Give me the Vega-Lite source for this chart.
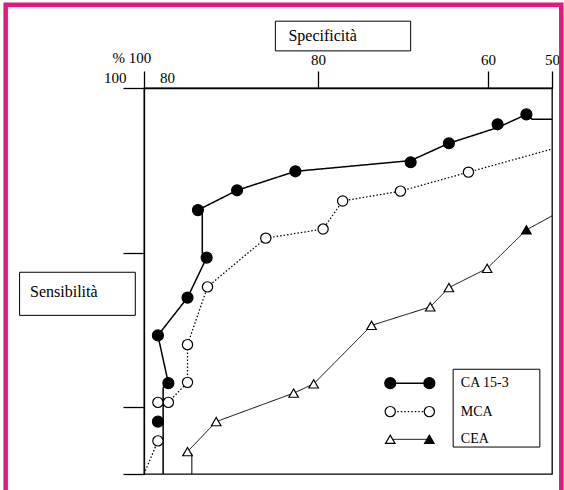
{
  "$schema": "https://vega.github.io/schema/vega-lite/v6.json",
  "width": 408,
  "height": 386,
  "padding": {"left": 144, "top": 88, "right": 12, "bottom": 16},
  "autosize": {"type": "none"},
  "background": "white",
  "config": {
    "view": {"stroke": "black", "strokeWidth": 1.3},
    "font": "Liberation Serif",
    "axis": {"grid": false, "title": null, "domainColor": "black", "tickColor": "black", "tickWidth": 1.3, "domainWidth": 1.3, "labelColor": "black", "labelFont": "Liberation Serif", "labelFontSize": 15}
  },
  "datasets": {
    "linee": [
      {"serie": "CA 15-3", "tratto": "a", "i": 1, "spec": 97.8, "sens": 51.3},
      {"serie": "CA 15-3", "tratto": "a", "i": 2, "spec": 97.8, "sens": 62.5},
      {"serie": "CA 15-3", "tratto": "a", "i": 3, "spec": 97.2, "sens": 63.1},
      {"serie": "CA 15-3", "tratto": "a", "i": 4, "spec": 98.4, "sens": 69.3},
      {"serie": "CA 15-3", "tratto": "a", "i": 5, "spec": 95.0, "sens": 74.2},
      {"serie": "CA 15-3", "tratto": "a", "i": 6, "spec": 92.8, "sens": 79.4},
      {"serie": "CA 15-3", "tratto": "a", "i": 7, "spec": 93.3, "sens": 80.0},
      {"serie": "CA 15-3", "tratto": "a", "i": 8, "spec": 93.3, "sens": 85.0},
      {"serie": "CA 15-3", "tratto": "a", "i": 9, "spec": 93.8, "sens": 85.2},
      {"serie": "CA 15-3", "tratto": "a", "i": 10, "spec": 89.3, "sens": 87.6},
      {"serie": "CA 15-3", "tratto": "a", "i": 11, "spec": 82.6, "sens": 89.9},
      {"serie": "CA 15-3", "tratto": "a", "i": 12, "spec": 69.1, "sens": 91.2},
      {"serie": "CA 15-3", "tratto": "a", "i": 13, "spec": 64.6, "sens": 93.3},
      {"serie": "CA 15-3", "tratto": "a", "i": 14, "spec": 58.5, "sens": 95.2},
      {"serie": "CA 15-3", "tratto": "a", "i": 15, "spec": 54.0, "sens": 96.8},
      {"serie": "CA 15-3", "tratto": "a", "i": 16, "spec": 53.1, "sens": 96.2},
      {"serie": "CA 15-3", "tratto": "a", "i": 17, "spec": 50.0, "sens": 96.2},
      {"serie": "MCA", "tratto": "b", "i": 1, "spec": 100.0, "sens": 51.3},
      {"serie": "MCA", "tratto": "b", "i": 2, "spec": 98.4, "sens": 55.6},
      {"serie": "MCA", "tratto": "c", "i": 3, "spec": 97.2, "sens": 60.6},
      {"serie": "MCA", "tratto": "c", "i": 4, "spec": 95.0, "sens": 63.2},
      {"serie": "MCA", "tratto": "c", "i": 5, "spec": 95.0, "sens": 68.1},
      {"serie": "MCA", "tratto": "c", "i": 6, "spec": 92.7, "sens": 75.6},
      {"serie": "MCA", "tratto": "c", "i": 7, "spec": 86.0, "sens": 81.8},
      {"serie": "MCA", "tratto": "c", "i": 8, "spec": 79.4, "sens": 82.9},
      {"serie": "MCA", "tratto": "c", "i": 9, "spec": 77.1, "sens": 86.3},
      {"serie": "MCA", "tratto": "c", "i": 10, "spec": 70.3, "sens": 87.5},
      {"serie": "MCA", "tratto": "c", "i": 11, "spec": 62.3, "sens": 89.8},
      {"serie": "MCA", "tratto": "c", "i": 12, "spec": 50.0, "sens": 92.6},
      {"serie": "CEA", "tratto": "d", "i": 1, "spec": 94.5, "sens": 51.3},
      {"serie": "CEA", "tratto": "d", "i": 2, "spec": 94.5, "sens": 53.9},
      {"serie": "CEA", "tratto": "d", "i": 3, "spec": 95.0, "sens": 54.2},
      {"serie": "CEA", "tratto": "d", "i": 4, "spec": 91.7, "sens": 58.1},
      {"serie": "CEA", "tratto": "d", "i": 5, "spec": 82.8, "sens": 61.8},
      {"serie": "CEA", "tratto": "d", "i": 6, "spec": 80.5, "sens": 63.0},
      {"serie": "CEA", "tratto": "d", "i": 7, "spec": 73.7, "sens": 70.6},
      {"serie": "CEA", "tratto": "d", "i": 8, "spec": 66.8, "sens": 73.0},
      {"serie": "CEA", "tratto": "d", "i": 9, "spec": 64.6, "sens": 75.5},
      {"serie": "CEA", "tratto": "d", "i": 10, "spec": 60.1, "sens": 78.0},
      {"serie": "CEA", "tratto": "d", "i": 11, "spec": 54.0, "sens": 82.8},
      {"serie": "CEA", "tratto": "d", "i": 12, "spec": 50.0, "sens": 84.5}
    ],
    "punti": [
      {"serie": "CA 15-3", "segno": "pieno", "spec": 98.4, "sens": 58.1},
      {"serie": "CA 15-3", "segno": "pieno", "spec": 97.2, "sens": 63.1},
      {"serie": "CA 15-3", "segno": "pieno", "spec": 98.4, "sens": 69.3},
      {"serie": "CA 15-3", "segno": "pieno", "spec": 95.0, "sens": 74.2},
      {"serie": "CA 15-3", "segno": "pieno", "spec": 92.8, "sens": 79.4},
      {"serie": "CA 15-3", "segno": "pieno", "spec": 93.8, "sens": 85.2},
      {"serie": "CA 15-3", "segno": "pieno", "spec": 89.3, "sens": 87.6},
      {"serie": "CA 15-3", "segno": "pieno", "spec": 82.6, "sens": 89.9},
      {"serie": "CA 15-3", "segno": "pieno", "spec": 69.1, "sens": 91.0},
      {"serie": "CA 15-3", "segno": "pieno", "spec": 64.6, "sens": 93.3},
      {"serie": "CA 15-3", "segno": "pieno", "spec": 58.5, "sens": 95.6},
      {"serie": "CA 15-3", "segno": "pieno", "spec": 54.0, "sens": 96.8},
      {"serie": "MCA", "segno": "vuoto", "spec": 98.4, "sens": 55.6},
      {"serie": "MCA", "segno": "vuoto", "spec": 98.4, "sens": 60.6},
      {"serie": "MCA", "segno": "vuoto", "spec": 97.2, "sens": 60.6},
      {"serie": "MCA", "segno": "vuoto", "spec": 95.0, "sens": 63.2},
      {"serie": "MCA", "segno": "vuoto", "spec": 95.0, "sens": 68.1},
      {"serie": "MCA", "segno": "vuoto", "spec": 92.7, "sens": 75.6},
      {"serie": "MCA", "segno": "vuoto", "spec": 86.0, "sens": 81.8},
      {"serie": "MCA", "segno": "vuoto", "spec": 79.4, "sens": 82.9},
      {"serie": "MCA", "segno": "vuoto", "spec": 77.1, "sens": 86.3},
      {"serie": "MCA", "segno": "vuoto", "spec": 70.3, "sens": 87.5},
      {"serie": "MCA", "segno": "vuoto", "spec": 62.3, "sens": 89.8},
      {"serie": "CEA", "segno": "vuoto", "spec": 95.0, "sens": 54.2},
      {"serie": "CEA", "segno": "vuoto", "spec": 91.7, "sens": 58.1},
      {"serie": "CEA", "segno": "vuoto", "spec": 82.8, "sens": 61.8},
      {"serie": "CEA", "segno": "vuoto", "spec": 80.5, "sens": 63.0},
      {"serie": "CEA", "segno": "vuoto", "spec": 73.7, "sens": 70.6},
      {"serie": "CEA", "segno": "vuoto", "spec": 66.8, "sens": 73.0},
      {"serie": "CEA", "segno": "vuoto", "spec": 64.6, "sens": 75.5},
      {"serie": "CEA", "segno": "vuoto", "spec": 60.1, "sens": 78.0},
      {"serie": "CEA", "segno": "pieno", "spec": 54.0, "sens": 82.8}
    ],
    "legenda": [
      {"serie": "CA 15-3", "sens": 63.1, "sinistra": "pieno", "destra": "pieno"},
      {"serie": "MCA", "sens": 59.4, "sinistra": "vuoto", "destra": "vuoto"},
      {"serie": "CEA", "sens": 55.8, "sinistra": "vuoto", "destra": "pieno"}
    ]
  },
  "layer": [
    {
      "data": {"name": "linee"},
      "mark": {"type": "line", "color": "black", "clip": false},
      "encoding": {
        "x": {"field": "spec", "type": "quantitative",
              "scale": {"domain": [100, 80, 60, 50], "range": [0, 174, 344, 408], "nice": false, "zero": false},
              "axis": {"orient": "top", "values": [100, 80, 60, 50], "tickSize": 17,
                       "labelExpr": "datum.value == 100 ? '' : datum.label",
                       "labelPadding": 4, "labelOverlap": false, "labelFlush": false}},
        "y": {"field": "sens", "type": "quantitative",
              "scale": {"domain": [100, 80, 60, 51.3], "range": [0, 165, 319, 386], "nice": false, "zero": false},
              "axis": {"orient": "left", "values": [100, 80, 60, 51.3], "tickSize": 21, "labels": false}},
        "detail": {"field": "tratto"},
        "order": {"field": "i", "type": "quantitative"},
        "strokeDash": {"field": "serie", "type": "nominal", "scale": {"domain": ["CA 15-3", "MCA", "CEA"], "range": [[1, 0], [1.5, 2], [1, 0]]}, "legend": null},
        "strokeWidth": {"field": "serie", "type": "nominal", "scale": {"domain": ["CA 15-3", "MCA", "CEA"], "range": [1.5, 1, 1.5]}, "legend": null}
      }
    },
    {
      "data": {"name": "punti"},
      "mark": {"type": "point", "stroke": "black", "strokeWidth": 1.2, "opacity": 1, "fillOpacity": 1, "clip": false},
      "encoding": {
        "x": {"field": "spec", "type": "quantitative"},
        "y": {"field": "sens", "type": "quantitative"},
        "shape": {"field": "serie", "type": "nominal", "scale": {"domain": ["CA 15-3", "MCA", "CEA"], "range": ["circle", "circle", "triangle-up"]}, "legend": null},
        "size": {"field": "serie", "type": "nominal", "scale": {"domain": ["CA 15-3", "MCA", "CEA"], "range": [120, 90, 180]}, "legend": null},
        "fill": {"field": "segno", "type": "nominal", "scale": {"domain": ["pieno", "vuoto"], "range": ["black", "white"]}, "legend": null}
      }
    },
    {
      "data": {"values": [{}]},
      "mark": {"type": "rect", "fillOpacity": 0, "stroke": "#e8177f", "strokeWidth": 4.5, "clip": false},
      "encoding": {
        "x": {"datum": 115.9, "type": "quantitative"},
        "x2": {"datum": 48.55},
        "y": {"datum": 110.1, "type": "quantitative"},
        "y2": {"datum": 47.9}
      }
    },
    {
      "data": {"values": [{"testo": "Specificità"}]},
      "layer": [
        {
          "mark": {"type": "rect", "fill": "white", "stroke": "black", "strokeWidth": 1, "clip": false},
          "encoding": {
            "x": {"datum": 84.9, "type": "quantitative"},
            "x2": {"datum": 69.1},
            "y": {"datum": 108.1, "type": "quantitative"},
            "y2": {"datum": 104.5}
          }
        },
        {
          "mark": {"type": "text", "align": "left", "baseline": "middle", "font": "Liberation Serif", "fontSize": 16, "color": "black", "clip": false},
          "encoding": {
            "x": {"datum": 83.4, "type": "quantitative"},
            "y": {"datum": 106.3, "type": "quantitative"},
            "text": {"field": "testo"}
          }
        }
      ]
    },
    {
      "data": {"values": [{"testo": "Sensibilità"}]},
      "layer": [
        {
          "mark": {"type": "rect", "fill": "white", "stroke": "black", "strokeWidth": 1, "clip": false},
          "encoding": {
            "x": {"datum": 114.3, "type": "quantitative"},
            "x2": {"datum": 101.0},
            "y": {"datum": 77.5, "type": "quantitative"},
            "y2": {"datum": 71.9}
          }
        },
        {
          "mark": {"type": "text", "align": "left", "baseline": "middle", "font": "Liberation Serif", "fontSize": 16, "color": "black", "clip": false},
          "encoding": {
            "x": {"datum": 113.1, "type": "quantitative"},
            "y": {"datum": 75.0, "type": "quantitative"},
            "text": {"field": "testo"}
          }
        }
      ]
    },
    {
      "data": {"values": [
        {"testo": "% 100", "spec": 101.4, "sens": 103.6},
        {"testo": "100", "spec": 103.3, "sens": 101.2},
        {"testo": "80", "spec": 97.3, "sens": 101.2}
      ]},
      "mark": {"type": "text", "align": "center", "baseline": "middle", "font": "Liberation Serif", "fontSize": 15, "color": "black", "clip": false},
      "encoding": {
        "x": {"field": "spec", "type": "quantitative"},
        "y": {"field": "sens", "type": "quantitative"},
        "text": {"field": "testo"}
      }
    },
    {
      "data": {"name": "legenda"},
      "layer": [
        {
          "mark": {"type": "rule", "color": "black"},
          "encoding": {
            "x": {"datum": 71.5, "type": "quantitative"},
            "x2": {"datum": 66.9},
            "y": {"field": "sens", "type": "quantitative"},
            "strokeDash": {"field": "serie", "type": "nominal", "scale": {"domain": ["CA 15-3", "MCA", "CEA"], "range": [[1, 0], [1.5, 2], [1, 0]]}, "legend": null},
            "strokeWidth": {"field": "serie", "type": "nominal", "scale": {"domain": ["CA 15-3", "MCA", "CEA"], "range": [1.5, 1, 1.5]}, "legend": null}
          }
        },
        {
          "mark": {"type": "point", "stroke": "black", "strokeWidth": 1.2, "opacity": 1, "fillOpacity": 1},
          "encoding": {
            "x": {"datum": 71.5, "type": "quantitative"},
            "y": {"field": "sens", "type": "quantitative"},
            "shape": {"field": "serie", "type": "nominal", "scale": {"domain": ["CA 15-3", "MCA", "CEA"], "range": ["circle", "circle", "triangle-up"]}, "legend": null},
            "size": {"field": "serie", "type": "nominal", "scale": {"domain": ["CA 15-3", "MCA", "CEA"], "range": [120, 90, 180]}, "legend": null},
            "fill": {"field": "sinistra", "type": "nominal", "scale": {"domain": ["pieno", "vuoto"], "range": ["black", "white"]}, "legend": null}
          }
        },
        {
          "mark": {"type": "point", "stroke": "black", "strokeWidth": 1.2, "opacity": 1, "fillOpacity": 1},
          "encoding": {
            "x": {"datum": 66.9, "type": "quantitative"},
            "y": {"field": "sens", "type": "quantitative"},
            "shape": {"field": "serie", "type": "nominal", "scale": {"domain": ["CA 15-3", "MCA", "CEA"], "range": ["circle", "circle", "triangle-up"]}, "legend": null},
            "size": {"field": "serie", "type": "nominal", "scale": {"domain": ["CA 15-3", "MCA", "CEA"], "range": [120, 90, 180]}, "legend": null},
            "fill": {"field": "destra", "type": "nominal", "scale": {"domain": ["pieno", "vuoto"], "range": ["black", "white"]}, "legend": null}
          }
        },
        {
          "mark": {"type": "rect", "fillOpacity": 0, "stroke": "black", "strokeWidth": 1},
          "data": {"values": [{}]},
          "encoding": {
            "x": {"datum": 64.1, "type": "quantitative"},
            "x2": {"datum": 51.9},
            "y": {"datum": 64.9, "type": "quantitative"},
            "y2": {"datum": 54.8}
          }
        },
        {
          "mark": {"type": "text", "align": "left", "baseline": "middle", "font": "Liberation Serif", "fontSize": 14, "color": "black"},
          "encoding": {
            "x": {"datum": 63.2, "type": "quantitative"},
            "y": {"field": "sens", "type": "quantitative"},
            "text": {"field": "serie"}
          }
        }
      ]
    }
  ]
}
